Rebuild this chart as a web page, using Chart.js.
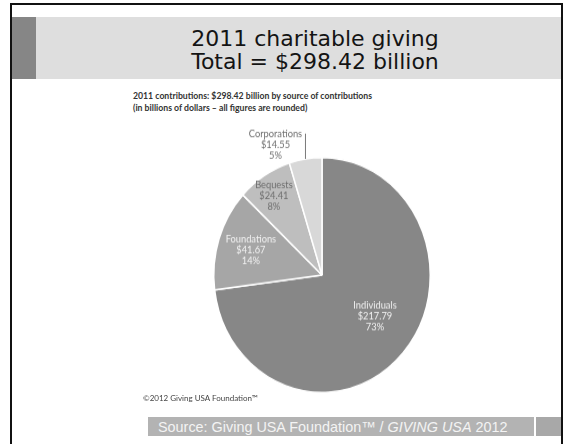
<!DOCTYPE html>
<html>
<head>
<meta charset="utf-8">
<script src="https://cdn.jsdelivr.net/npm/chart.js@4.4.1/dist/chart.umd.min.js"></script>
<style>
  html, body { margin: 0; padding: 0; background: #fff; }
  body { width: 563px; height: 444px; position: relative; overflow: hidden; }
  .frame { position: absolute; left: 10px; top: 3px; width: 553px; height: 460px;
           box-sizing: border-box; border: 2px solid #111; border-bottom: none; }
  .band { position: absolute; left: 12px; top: 17px; width: 549px; height: 62px; background: #dedede; }
  .band-dark { position: absolute; left: 12px; top: 17px; width: 24px; height: 62px; background: #868686; }
  .title { position: absolute; left: 68px; top: 28px; width: 494px; text-align: center;
           font-family: "DejaVu Sans", sans-serif; font-size: 22px; line-height: 22.5px; color: #141414; }
  .subtitle { position: absolute; left: 133px; top: 90px; font-family: Lato, sans-serif;
              font-weight: bold; font-size: 8.7px; line-height: 11.5px; color: #333; white-space: nowrap; }
  .copy { position: absolute; left: 143px; top: 393px; font-family: Lato, sans-serif;
          font-size: 8px; color: #444; white-space: nowrap; }
  .foot { position: absolute; left: 148px; top: 417px; width: 386px; height: 19px; background: #b3b3b3; }
  .foot-end { position: absolute; left: 536px; top: 417px; width: 25px; height: 19px; background: #a8a8a8; }
  .foot-text { position: absolute; left: 158px; top: 417px; height: 19px; line-height: 20px;
               font-family: "Liberation Sans", Arial, sans-serif; font-size: 14.4px; color: #f4f4f4; white-space: nowrap; }
  .pie-box { position: absolute; left: 172px; top: 125px; width: 300px; height: 300px;
             transform: scaleY(1.085); transform-origin: 150px 150px; }
</style>
</head>
<body>
<div class="frame"></div>
<div class="band"></div>
<div class="band-dark"></div>
<div class="title">2011 charitable giving<br>Total = $298.42 billion</div>
<div class="subtitle">2011 contributions: $298.42 billion by source of contributions<br>(in billions of dollars – all figures are rounded)</div>
<div class="pie-box"><canvas id="pie" width="300" height="300"></canvas></div>
<div class="copy">©2012 Giving USA Foundation™</div>
<div class="foot"></div>
<div class="foot-end"></div>
<div class="foot-text">Source: Giving USA Foundation™ / <i>GIVING USA</i> 2012</div>

<script>
// 2011 contributions by source, in billions of dollars
const categories = ['Individuals', 'Foundations', 'Bequests', 'Corporations'];
const amounts = [217.79, 41.67, 24.41, 14.55];

const sliceColors = ['#878787', '#a6a6a6', '#bebebe', '#d8d8d8'];
const labelColors = ['#f2f2f2', '#f2f2f2', '#6e6e6e', '#6e6e6e'];
// label placement: fraction of radius and angular shift (degrees) from the slice middle
const labelPlacement = [
  { r: 0.60, shift: -6 },
  { r: 0.69, shift: 0 },
  { r: 0.81, shift: -1 },
  { r: 1.19, shift: -12.4, leader: true }
];

const total = amounts.reduce((a, b) => a + b, 0);

const sliceLabels = {
  id: 'sliceLabels',
  afterDatasetsDraw(chart) {
    const ctx = chart.ctx;
    const arcs = chart.getDatasetMeta(0).data;
    ctx.save();
    ctx.font = '9.3px Lato, sans-serif';
    ctx.textAlign = 'center';
    ctx.textBaseline = 'middle';
    const lineH = 10;
    arcs.forEach((arc, i) => {
      const p = arc.getProps(['x', 'y', 'startAngle', 'endAngle', 'outerRadius'], true);
      const mid = (p.startAngle + p.endAngle) / 2;
      const place = labelPlacement[i];
      const ang = mid + place.shift * Math.PI / 180;
      const lx = p.x + Math.cos(ang) * p.outerRadius * place.r;
      const ly = p.y + Math.sin(ang) * p.outerRadius * place.r;
      const pct = Math.round(amounts[i] / total * 100) + '%';
      const lines = [categories[i], '$' + amounts[i].toFixed(2), pct];
      ctx.fillStyle = labelColors[i];
      lines.forEach((t, k) => ctx.fillText(t, lx, ly + (k - 1) * lineH));
      if (place.leader) {
        const firstY = ly - lineH;
        const textRight = lx + ctx.measureText(lines[0]).width / 2;
        const ex = p.x + Math.cos(mid) * p.outerRadius;
        const ey = p.y + Math.sin(mid) * p.outerRadius;
        ctx.strokeStyle = '#7a7a7a';
        ctx.lineWidth = 1;
        ctx.beginPath();
        ctx.moveTo(ex, ey);
        ctx.lineTo(ex, firstY);
        ctx.lineTo(textRight + 3, firstY);
        ctx.stroke();
      }
    });
    ctx.restore();
  }
};

new Chart(document.getElementById('pie'), {
  type: 'pie',
  data: {
    labels: categories,
    datasets: [{
      data: amounts,
      backgroundColor: sliceColors,
      borderColor: '#ffffff',
      borderWidth: 1.5
    }]
  },
  options: {
    responsive: false,
    animation: false,
    layout: { padding: 41 },
    plugins: { legend: { display: false }, tooltip: { enabled: false } }
  },
  plugins: [sliceLabels]
});
</script>
</body>
</html>
